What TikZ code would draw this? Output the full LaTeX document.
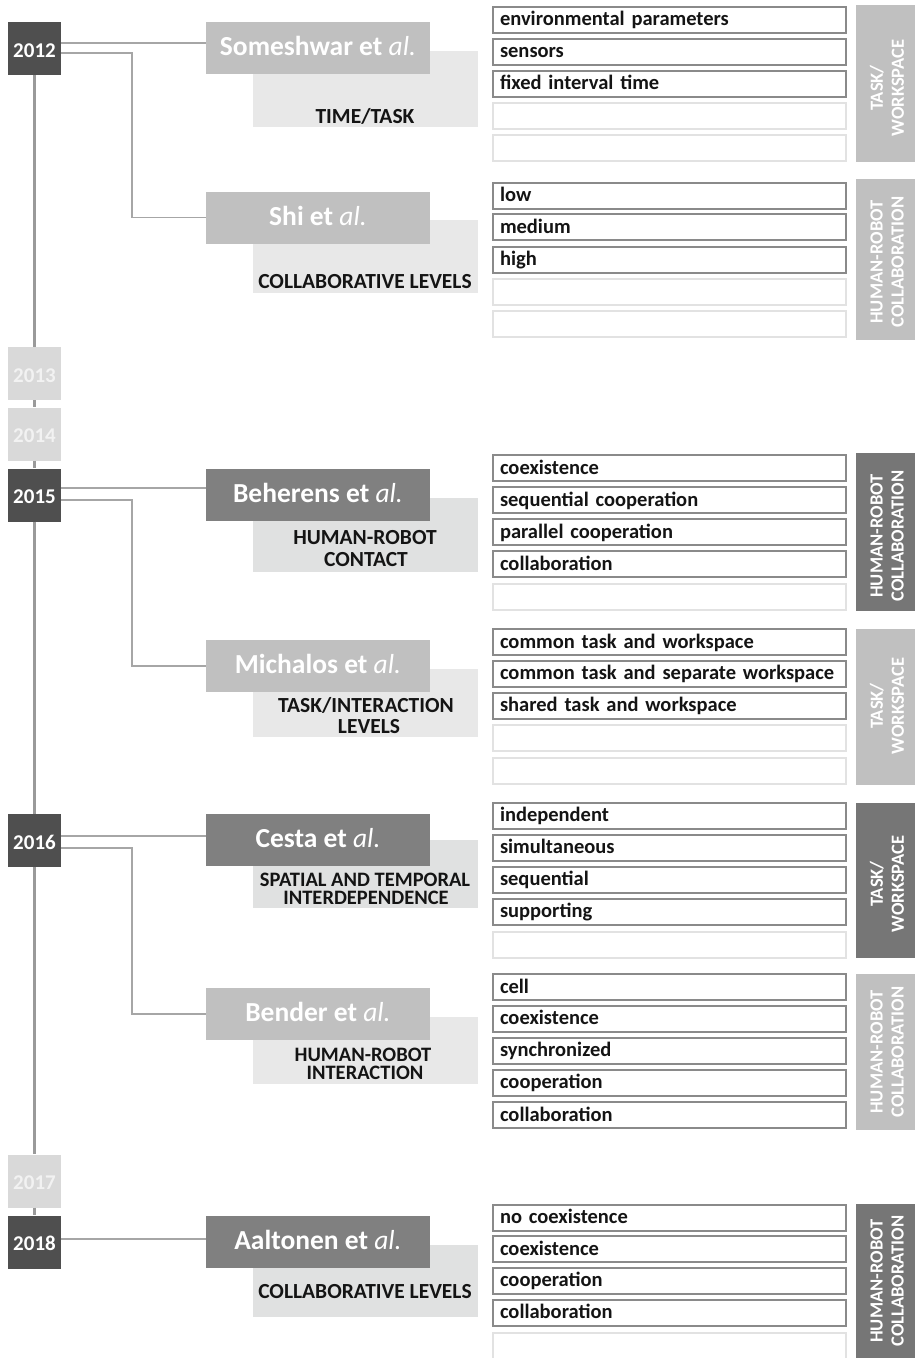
\documentclass[tikz,border=0pt]{standalone}
\usepackage{fontspec}
\setmainfont{Carlito}
\definecolor{yeardark}{HTML}{4F4F4F}
\definecolor{yearlight}{HTML}{D9D9D9}
\definecolor{yeartext}{HTML}{F2F2F2}
\definecolor{authlight}{HTML}{C0C0C0}
\definecolor{authdark}{HTML}{808080}
\definecolor{catlight}{HTML}{E8E8E8}
\definecolor{catdark}{HTML}{E0E1E1}
\definecolor{sidelight}{HTML}{C0C0C0}
\definecolor{sidedark}{HTML}{767676}
\definecolor{rowline}{HTML}{8A8A8A}
\definecolor{rowemptyline}{HTML}{E2E2E2}
\definecolor{conncol}{HTML}{A6A6A6}
\definecolor{tlcol}{HTML}{9A9A9A}
\newcommand{\frow}[3]{\node[rowfull] (#1) at (669.5,#2+13.5) {\mbox{#3}};}
\newcommand{\erow}[2]{\node[rowblank] (#1) at (669.5,#2+13.5) {};}
\begin{document}
\begin{tikzpicture}[x=1pt,y=-1pt,
  yr/.style={rectangle,minimum width=53pt,minimum height=53pt,inner sep=0pt,text height=17pt,text depth=0pt,font=\bfseries\fontsize{21}{24}\selectfont},
  yrdark/.style={yr,fill=yeardark,text=white},
  yrlight/.style={yr,fill=yearlight,text=yeartext},
  auth/.style={rectangle,minimum width=224pt,minimum height=52pt,inner sep=0pt,text height=15pt,text depth=0pt,text=white,font=\bfseries\fontsize{27.5}{30}\selectfont},
  authl/.style={auth,fill=authlight},
  authd/.style={auth,fill=authdark},
  catl/.style={rectangle,minimum width=225pt,inner sep=0pt,fill=catlight},
  catd/.style={rectangle,minimum width=225pt,inner sep=0pt,fill=catdark},
  cattext/.style={anchor=base,inner sep=0pt,font=\bfseries\fontsize{21.5}{24}\selectfont,text=black!92},
  cattextsm/.style={cattext,font=\bfseries\fontsize{20.5}{22}\selectfont},
  rowbase/.style={rectangle,minimum width=353pt,minimum height=26pt,text width=339pt,inner xsep=7pt,inner ysep=0pt,align=left,text height=12pt,text depth=0pt,line width=2pt,fill=white,font=\bfseries\fontsize{20.5}{24}\selectfont,text=black!92},
  rowfull/.style={rowbase,draw=rowline},
  rowblank/.style={rowbase,draw=rowemptyline},
  side/.style={rectangle,minimum width=59pt,inner sep=0pt},
  sidel/.style={side,fill=sidelight},
  sided/.style={side,fill=sidedark},
  sidetext/.style={rotate=90,align=center,inner sep=0pt,text=white,font=\bfseries\fontsize{18.5}{21}\selectfont},
  conn/.style={draw=conncol,line width=1.5pt},
  tl/.style={draw=tlcol,line width=2.5pt}
]
\useasboundingbox (0,0) rectangle (915,1358);
\clip (0,0) rectangle (915,1358);

% year boxes
\node[yrdark] (y2012) at (34.5,48.5) {2012};
\node[yrlight] (y2013) at (34.5,373.5) {2013};
\node[yrlight] (y2014) at (34.5,434) {2014};
\node[yrdark] (y2015) at (34.5,495) {2015};
\node[yrdark] (y2016) at (34.5,840.5) {2016};
\node[yrlight] (y2017) at (34.5,1181) {2017};
\node[yrdark] (y2018) at (34.5,1242) {2018};

% category boxes (behind author boxes)
\node[catl,minimum height=76pt] (k1) at (365.5,89) {};
\node[catl,minimum height=73pt] (k2) at (365.5,256.5) {};
\node[catd,minimum height=74pt] (k3) at (365.5,535) {};
\node[catl,minimum height=68pt] (k4) at (365.5,703) {};
\node[catd,minimum height=68pt] (k5) at (365.5,874) {};
\node[catl,minimum height=67pt] (k6) at (365.5,1050.5) {};
\node[catd,minimum height=72pt] (k7) at (365.5,1281) {};

\node[cattext] (t1) at (365,123) {TIME/TASK};
\node[cattext] (t2) at (365,288) {COLLABORATIVE LEVELS};
\node[cattext] (t3a) at (365,544) {HUMAN-ROBOT};
\node[cattext] (t3b) at (366,566) {CONTACT};
\node[cattext] (t4a) at (366,712) {TASK/INTERACTION};
\node[cattext] (t4b) at (369,733) {LEVELS};
\node[cattextsm] (t5a) at (365,886) {SPATIAL AND TEMPORAL};
\node[cattextsm] (t5b) at (366,904) {INTERDEPENDENCE};
\node[cattextsm] (t6a) at (363,1061) {HUMAN-ROBOT};
\node[cattextsm] (t6b) at (365,1079) {INTERACTION};
\node[cattext] (t7) at (365,1298) {COLLABORATIVE LEVELS};

% author boxes
\node[authl] (someshwar) at (318,48) {Someshwar et {\mdseries\itshape al.}};
\node[authl] (shi) at (318,217.5) {Shi et {\mdseries\itshape al.}};
\node[authd] (beherens) at (318,495) {Beherens et {\mdseries\itshape al.}};
\node[authl] (michalos) at (318,666) {Michalos et {\mdseries\itshape al.}};
\node[authd] (cesta) at (318,839.5) {Cesta et {\mdseries\itshape al.}};
\node[authl] (bender) at (318,1014) {Bender et {\mdseries\itshape al.}};
\node[authd] (aaltonen) at (318,1242) {Aaltonen et {\mdseries\itshape al.}};

% elbow coordinates
\coordinate (e1) at (132,150);
\coordinate (e2) at (132,580);
\coordinate (e3) at (132,930);

% connectors
\draw[conn] ([yshift=5.5pt]y2012.east) coordinate (a1) -- (a1 -| someshwar.west);
\draw[conn] ([yshift=-4.5pt]y2012.east) -| (e1) |- (shi.west);
\draw[conn] ([yshift=7pt]y2015.east) coordinate (a2) -- (a2 -| beherens.west);
\draw[conn] ([yshift=-5pt]y2015.east) -| (e2) |- (michalos.west);
\draw[conn] ([yshift=4.5pt]y2016.east) coordinate (a3) -- (a3 -| cesta.west);
\draw[conn] ([yshift=-7.5pt]y2016.east) -| (e3) |- (bender.west);
\draw[conn] ([yshift=3pt]y2018.east) coordinate (a4) -- (a4 -| aaltonen.west);

% list 1
\frow{r1a}{6}{environmental parameters}
\frow{r1b}{38}{sensors}
\frow{r1c}{70}{fixed interval time}
\erow{r1d}{102}
\erow{r1e}{134}
% list 2
\frow{r2a}{182}{low}
\frow{r2b}{213.5}{medium}
\frow{r2c}{246}{high}
\erow{r2d}{278}
\erow{r2e}{310}
% list 3
\frow{r3a}{454.5}{coexistence}
\frow{r3b}{486.5}{sequential cooperation}
\frow{r3c}{518.5}{parallel cooperation}
\frow{r3d}{550.5}{collaboration}
\erow{r3e}{583}
% list 4
\frow{r4a}{628.5}{common task and workspace}
\frow{r4b}{660}{common task and separate workspace}
\frow{r4c}{692}{shared task and workspace}
\erow{r4d}{724}
\erow{r4e}{757}
% list 5
\frow{r5a}{802}{independent}
\frow{r5b}{834}{simultaneous}
\frow{r5c}{866}{sequential}
\frow{r5d}{898}{supporting}
\erow{r5e}{931}
% list 6
\frow{r6a}{973.5}{cell}
\frow{r6b}{1005}{coexistence}
\frow{r6c}{1037}{synchronized}
\frow{r6d}{1069}{cooperation}
\frow{r6e}{1101.5}{collaboration}
% list 7
\frow{r7a}{1204}{no coexistence}
\frow{r7b}{1235.5}{coexistence}
\frow{r7c}{1267}{cooperation}
\frow{r7d}{1299}{collaboration}
\erow{r7e}{1332}

% side labels
\node[sidel,minimum height=157pt] (s1) at (885.5,83.5) {};
\node[sidetext] (s1t) at (887,88) {TASK/\\WORKSPACE};
\node[sidel,minimum height=161pt] (s2) at (885.5,259.5) {};
\node[sidetext] (s2t) at (887,262) {HUMAN-ROBOT\\COLLABORATION};
\node[sided,minimum height=158pt] (s3) at (885.5,532) {};
\node[sidetext] (s3t) at (887,536) {HUMAN-ROBOT\\COLLABORATION};
\node[sidel,minimum height=156pt] (s4) at (885.5,707) {};
\node[sidetext] (s4t) at (887,706) {TASK/\\WORKSPACE};
\node[sided,minimum height=155pt] (s5) at (885.5,880.5) {};
\node[sidetext] (s5t) at (887,884) {TASK/\\WORKSPACE};
\node[sidel,minimum height=156pt] (s6) at (885.5,1052) {};
\node[sidetext] (s6t) at (887,1052) {HUMAN-ROBOT\\COLLABORATION};
\node[sided,minimum height=156pt] (s7) at (885.5,1282) {};
\node[sidetext] (s7t) at (887,1281) {HUMAN-ROBOT\\COLLABORATION};

% timeline (drawn between year boxes)
\draw[tl] (y2012.south) -- (y2013.north);
\draw[tl] (y2013.south) -- (y2014.north);
\draw[tl] (y2014.south) -- (y2015.north);
\draw[tl] (y2015.south) -- (y2016.north);
\draw[tl] (y2016.south) -- (y2017.north);
\draw[tl] (y2017.south) -- (y2018.north);
\end{tikzpicture}
\end{document}
